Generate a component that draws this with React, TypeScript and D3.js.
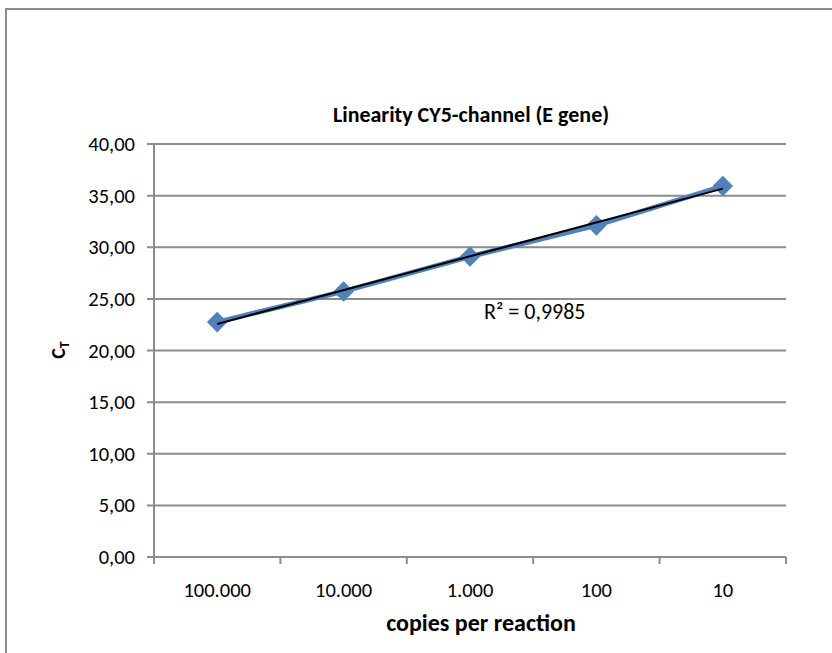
import React, { useEffect, useRef } from 'react';
import * as d3 from 'd3';

const categories = ['100.000', '10.000', '1.000', '100', '10'];
const ctValues = [22.75, 25.72, 29.1, 32.12, 35.93];
const yTicks = [0, 5, 10, 15, 20, 25, 30, 35, 40];
const r2Text = 'R² = 0,9985';

const App = () => {
    const svgRef = useRef<SVGSVGElement>(null);

    useEffect(() => {
        if (!svgRef.current) return;
        const svg = d3.select(svgRef.current);
        svg.selectAll('*').remove();

        const width = 832;
        const height = 653;
        const font = "Carlito, Calibri, Lato, 'Open Sans', sans-serif";
        const plot = { left: 154, right: 786, top: 144, bottom: 557 };

        // outer chart frame
        svg.append('rect')
            .attr('x', 6).attr('y', 9)
            .attr('width', width).attr('height', height)
            .attr('fill', '#fff')
            .attr('stroke', '#8c8c8c')
            .attr('stroke-width', 2);

        const x = d3.scaleBand<string>()
            .domain(categories)
            .range([plot.left, plot.right]);
        const y = d3.scaleLinear()
            .domain([0, 40])
            .range([plot.bottom, plot.top]);

        // gridlines
        svg.append('g')
            .selectAll('line')
            .data(yTicks)
            .enter()
            .append('line')
            .attr('x1', plot.left - 7)
            .attr('x2', plot.right)
            .attr('y1', d => y(d))
            .attr('y2', d => y(d))
            .attr('stroke', '#8c8c8c')
            .attr('stroke-width', 2);

        // y axis line
        svg.append('line')
            .attr('x1', plot.left).attr('x2', plot.left)
            .attr('y1', plot.top).attr('y2', plot.bottom)
            .attr('stroke', '#8c8c8c').attr('stroke-width', 2);

        // x ticks (between categories)
        const tickPos = categories.map(c => x(c) as number).concat([plot.right]);
        svg.append('g')
            .selectAll('line')
            .data(tickPos)
            .enter()
            .append('line')
            .attr('x1', d => d).attr('x2', d => d)
            .attr('y1', plot.bottom).attr('y2', plot.bottom + 7)
            .attr('stroke', '#8c8c8c').attr('stroke-width', 2);

        // y tick labels
        svg.append('g')
            .selectAll('text')
            .data(yTicks)
            .enter()
            .append('text')
            .attr('x', 135)
            .attr('y', d => y(d) + 7)
            .attr('text-anchor', 'end')
            .style('font-family', font)
            .style('font-size', '20.5px')
            .text(d => d3.format('.2f')(d).replace('.', ','));

        // x tick labels
        svg.append('g')
            .selectAll('text')
            .data(categories)
            .enter()
            .append('text')
            .attr('x', d => (x(d) as number) + x.bandwidth() / 2)
            .attr('y', 597)
            .attr('text-anchor', 'middle')
            .style('font-family', font)
            .style('font-size', '20.5px')
            .text(d => d);

        const cx = (i: number) => (x(categories[i]) as number) + x.bandwidth() / 2;

        // series line
        const line = d3.line<number>()
            .x((d, i) => cx(i))
            .y(d => y(d));
        svg.append('path')
            .datum(ctValues)
            .attr('d', line)
            .attr('fill', 'none')
            .attr('stroke', '#4F81BD')
            .attr('stroke-width', 5);

        // markers
        const diamond = d3.symbol().type(d3.symbolDiamond2).size(270);
        svg.append('g')
            .selectAll('path')
            .data(ctValues)
            .enter()
            .append('path')
            .attr('d', diamond)
            .attr('transform', (d, i) => `translate(${cx(i)},${y(d)})`)
            .attr('fill', '#4F81BD');

        // linear trendline
        const xs = ctValues.map((d, i) => i + 1);
        const mx = d3.mean(xs) as number;
        const my = d3.mean(ctValues) as number;
        const slope = d3.sum(xs.map((v, i) => (v - mx) * (ctValues[i] - my))) /
            d3.sum(xs.map(v => (v - mx) * (v - mx)));
        const icpt = my - slope * mx;
        svg.append('line')
            .attr('x1', cx(0)).attr('y1', y(icpt + slope * 1))
            .attr('x2', cx(4)).attr('y2', y(icpt + slope * 5))
            .attr('stroke', '#000')
            .attr('stroke-width', 2);

        svg.append('text')
            .attr('x', 484)
            .attr('y', 319)
            .style('font-family', font)
            .style('font-size', '22px')
            .text(r2Text);

        // title
        svg.append('text')
            .attr('x', 471)
            .attr('y', 122)
            .attr('text-anchor', 'middle')
            .style('font-family', font)
            .style('font-size', '22px')
            .style('font-weight', 'bold')
            .text('Linearity CY5-channel (E gene)');

        // x axis title
        svg.append('text')
            .attr('x', 481)
            .attr('y', 631)
            .attr('text-anchor', 'middle')
            .style('font-family', font)
            .style('font-size', '24px')
            .style('font-weight', 'bold')
            .text('copies per reaction');

        // y axis title C_T
        const yt = svg.append('text')
            .attr('transform', 'translate(65,350) rotate(-90)')
            .attr('text-anchor', 'middle')
            .style('font-family', font)
            .style('font-size', '20px')
            .style('font-weight', 'bold');
        yt.append('tspan').text('C');
        yt.append('tspan').attr('dy', 4).style('font-size', '14px').text('T');
    }, []);

    return (
        <svg
            ref={svgRef}
            width={832}
            height={653}
            style={{ position: 'absolute', left: 0, top: 0, display: 'block', background: '#fff' }}
        />
    );
};

export default App;
